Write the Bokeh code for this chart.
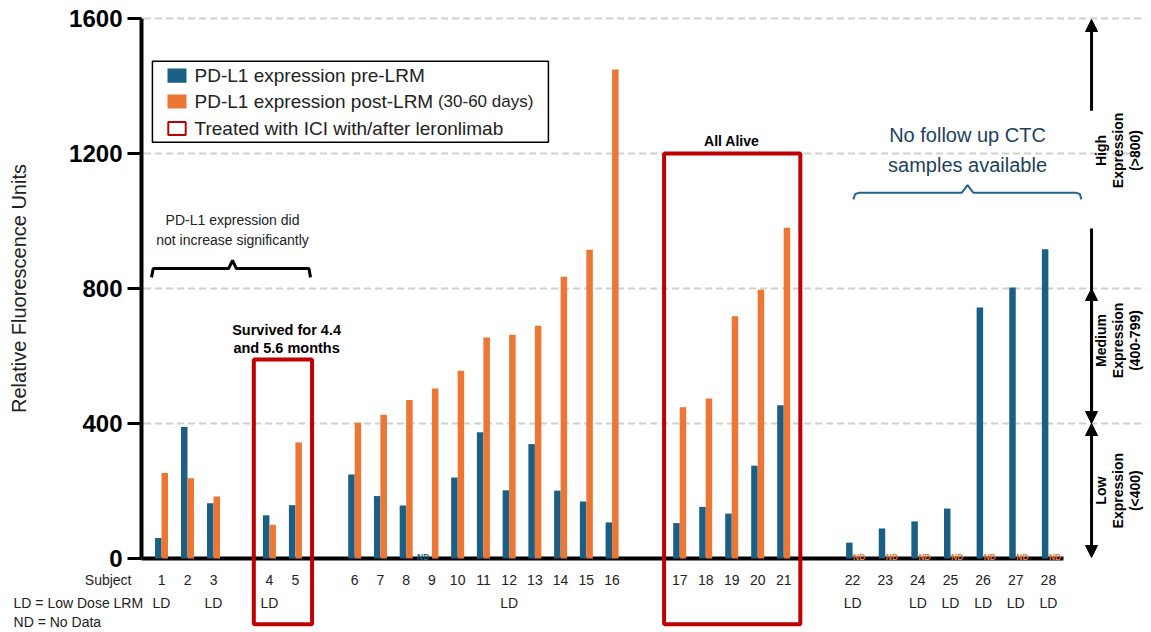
import numpy as np
from bokeh.plotting import figure
from bokeh.models import ColumnDataSource, Range1d, FixedTicker, Label, Arrow, NormalHead
from bokeh.core.properties import value
from bokeh.embed import file_html
from bokeh.resources import INLINE

# ---------------- data ----------------
subjects = list(range(1, 29))
pre_lrm = [61, 390, 164, 128, 158, 249, 185, 157, None, 240, 374, 202, 339, 201,
           169, 107, 105, 153, 133, 275, 454, 47, 89, 110, 148, 744, 803, 916]
post_lrm = [253, 238, 184, 100, 344, 402, 426, 470, 504, 556, 655, 663, 690, 835,
            915, 1449, 448, 474, 718, 796, 980, None, None, None, None, None, None, None]
low_dose_subjects = [1, 3, 4, 12, 22, 24, 25, 26, 27, 28]
ici_groups = [[4, 5], [17, 18, 19, 20, 21]]
y_ticks = [0, 400, 800, 1200, 1600]

# ---------------- layout of subject slots ----------------
slot_groups = [([1, 2, 3], 0.77, 1.0), ([4, 5], 4.92, 1.0), (list(range(6, 17)), 8.2, 0.99),
               (list(range(17, 22)), 20.7, 1.0), (list(range(22, 29)), 27.35, 1.255)]
pos = {}
for subs, start, step in slot_groups:
    for i, s in enumerate(subs):
        pos[s] = start + i * step

BLUE = "#1B6084"
ORANGE = "#EC7633"
RED = "#C00000"
FONT = "Liberation Sans"
BAR_W = 0.25

p = figure(width=1151, height=632, output_backend="svg", toolbar_location=None,
           x_range=Range1d(-141 / 26, 1010 / 26), y_range=Range1d(-632 * 0 - 74 / 0.3375, 558 / 0.3375),
           min_border_left=0, min_border_right=0, min_border_top=0, min_border_bottom=0)
p.outline_line_color = None
p.background_fill_color = "white"
p.border_fill_color = "white"

# axes
p.xaxis.visible = False
p.xgrid.visible = False
p.ygrid.visible = False
yax = p.yaxis[0]
yax.fixed_location = 0
yax.ticker = FixedTicker(ticks=y_ticks)
yax.bounds = (0, 1600)
yax.axis_line_width = 4
yax.axis_line_color = "black"
yax.major_tick_line_width = 3
yax.major_tick_line_color = "black"
yax.major_tick_out = 14
yax.major_tick_in = 0
yax.minor_tick_line_color = None
yax.major_label_text_font = FONT
yax.major_label_text_font_style = "bold"
yax.major_label_text_font_size = "24px"
yax.major_label_text_color = "black"
yax.major_label_standoff = 5

# dashed gridlines (stop at the right edge of the chart area)
grid_vals = y_ticks[1:]
p.segment(x0=[0.1] * len(grid_vals), y0=grid_vals, x1=[38.62] * len(grid_vals), y1=grid_vals,
          line_color="#D0D0D0", line_width=2, line_dash="7 4", level="underlay")

# x baseline
p.segment(x0=[0], y0=[0], x1=[35.46], y1=[0], line_color="black", line_width=4)

# bars
pre_src = ColumnDataSource(dict(x=[pos[s] - BAR_W / 2 for s, v in zip(subjects, pre_lrm) if v is not None],
                                top=[v for v in pre_lrm if v is not None]))
post_src = ColumnDataSource(dict(x=[pos[s] + BAR_W / 2 for s, v in zip(subjects, post_lrm) if v is not None],
                                 top=[v for v in post_lrm if v is not None]))
p.vbar(x="x", top="top", bottom=0, width=BAR_W, source=pre_src, fill_color=BLUE, line_color=None)
p.vbar(x="x", top="top", bottom=0, width=BAR_W, source=post_src, fill_color=ORANGE, line_color=None)

# ND markers
nd_pre = [s for s, v in zip(subjects, pre_lrm) if v is None]
nd_post = [s for s, v in zip(subjects, post_lrm) if v is None]
p.text(x=[pos[s] - 0.1 for s in nd_pre], y=[5] * len(nd_pre), text=["ND"] * len(nd_pre),
       text_font=value(FONT), text_font_style="bold", text_font_size="8.5px", text_color=BLUE,
       text_align="right", text_baseline="alphabetic")
p.text(x=[pos[s] + 0.02 for s in nd_post], y=[5] * len(nd_post), text=["ND"] * len(nd_post),
       text_font=value(FONT), text_font_style="bold", text_font_size="8.5px", text_color=ORANGE,
       text_align="left", text_baseline="alphabetic")

# subject labels
p.text(x=[pos[s] for s in subjects], y=[-65] * len(subjects), text=[str(s) for s in subjects],
       text_font=value(FONT), text_font_size="14px", text_color="#222222",
       text_align="center", text_baseline="middle")
p.text(x=[pos[s] for s in low_dose_subjects], y=[-133] * len(low_dose_subjects),
       text=["LD"] * len(low_dose_subjects),
       text_font=value(FONT), text_font_size="14px", text_color="#222222",
       text_align="center", text_baseline="middle")

def lab(x, y, text, size="14px", style="normal", color="#222222", align="center", angle=0.0, baseline="middle"):
    p.add_layout(Label(x=x, y=y, text=text, text_font=FONT, text_font_size=size,
                       text_font_style=style, text_color=color, text_align=align,
                       text_baseline=baseline, angle=angle))

lab(-0.385, -65, "Subject", align="right")
lab(-4.92, -133, "LD = Low Dose LRM", align="left")
lab(-4.92, -187, "ND = No Data", align="left")

# y axis title
lab(-4.73, 800, "Relative Fluorescence Units", size="20px", color="#222222", angle=np.pi / 2)

# ICI boxes
box_tops = [590, 1200]
for grp, top in zip(ici_groups, box_tops):
    p.quad(left=[pos[grp[0]] - 0.6], right=[pos[grp[-1]] + 0.64], top=[top], bottom=[-195],
           fill_color=None, line_color=RED, line_width=4)

# legend (drawn)
p.quad(left=[0.42], right=[15.65], top=[1473], bottom=[1233], fill_color="white",
       line_color="black", line_width=1.5)
p.quad(left=[1.0], right=[1.73], top=[1452], bottom=[1410], fill_color=BLUE, line_color=None)
p.quad(left=[1.0], right=[1.73], top=[1375], bottom=[1333], fill_color=ORANGE, line_color=None)
p.quad(left=[1.03], right=[1.7], top=[1293], bottom=[1255], fill_color="white", line_color=RED, line_width=2)
lab(2.04, 1431, "PD-L1 expression pre-LRM", size="19px", align="left")
lab(2.04, 1354, "PD-L1 expression post-LRM", size="19px", align="left")
lab(11.4, 1354, "(30-60 days)", size="17px", align="left")
lab(2.04, 1274, "Treated with ICI with/after leronlimab", size="19px", align="left")

# annotations
lab(3.5, 1004, "PD-L1 expression did", size="14px")
lab(3.5, 945, "not increase significantly", size="14px")
p.line(x=[0.385, 0.45, 3.35, 3.5, 3.65, 6.44, 6.5], y=[833, 859, 859, 883, 859, 859, 833],
       line_color="black", line_width=3)

lab(5.58, 678, "Survived for 4.4", size="14.5px", style="bold", color="black")
lab(5.58, 625, "and 5.6 months", size="14.5px", style="bold", color="black")
lab(22.7, 1236, "All Alive", size="14px", style="bold", color="black")

lab(31.77, 1256, "No follow up CTC", size="20px", color="#1d3f5e")
lab(31.77, 1167, "samples available", size="20px", color="#1d3f5e")
p.line(x=[27.38, 27.45, 27.62, 31.55, 31.77, 31.99, 35.92, 36.09, 36.15],
       y=[1064, 1080, 1084, 1084, 1106, 1084, 1084, 1080, 1064],
       line_color="#1F6390", line_width=2)

# expression-level arrows on the right
AX = 36.54
def head():
    return NormalHead(size=12, fill_color="black", line_color="black")
p.add_layout(Arrow(x_start=AX, y_start=1327, x_end=AX, y_end=1597, end=head(), line_width=3))
p.segment(x0=[AX], y0=[978], x1=[AX], y1=[420], line_color="black", line_width=3)
p.add_layout(Arrow(x_start=AX, y_start=600, x_end=AX, y_end=800, end=head(), line_width=3))
p.add_layout(Arrow(x_start=AX, y_start=600, x_end=AX, y_end=400, end=head(), line_width=3))
p.add_layout(Arrow(x_start=AX, y_start=400, x_end=AX, y_end=3, start=head(), end=head(), line_width=3))

level_text = [(1209, ["High", "Expression", "(>800)"]),
              (646, ["Medium", "Expression", "(400-799)"]),
              (201, ["Low", "Expression", "(<400)"])]
cols = [36.92, 37.55, 38.2]
for yc, lines in level_text:
    for cx, t in zip(cols, lines):
        lab(cx, yc, t, size="14px", style="bold", color="black", angle=np.pi / 2)

open("out.html", "w").write(file_html(p, INLINE))
